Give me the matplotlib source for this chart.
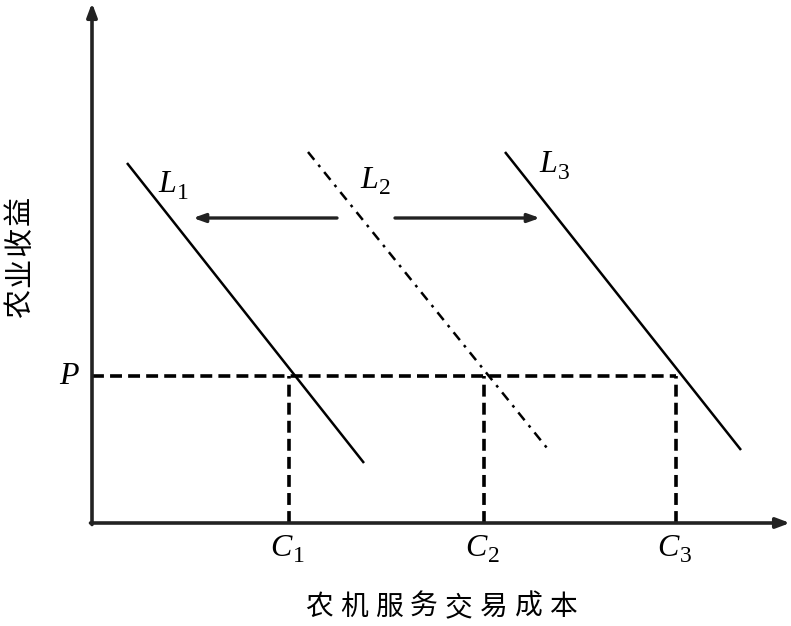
import matplotlib.pyplot as plt

# Data (pixel-like units, origin at the axes corner)
line_names = ["L", "L", "L"]
line_subs = ["1", "2", "3"]
line_x = [[35, 272], [216, 455], [413, 649]]
line_y = [[360, 60], [371, 75], [371, 73]]
line_styles = ["-", (0, (4, 2.6, 1.1, 2.6)), "-"]
label_xy = [(80, 338), (282, 343), (461, 358)]

p_level = 147
c_names = ["C", "C", "C"]
c_subs = ["1", "2", "3"]
c_values = [197, 392, 584]

arrow_y = 305
arrow_left = (245, 101)
arrow_right = (303, 448)

x_title = "农机服务交易成本"
y_title = "农业收益"

serif = 'Liberation Serif'
cjk = ['Noto Sans CJK SC', 'DejaVu Sans']

fig = plt.figure(figsize=(7.91, 6.26), dpi=100)
ax = fig.add_axes([0, 0, 1, 1])
ax.set_xlim(-92, 699)
ax.set_ylim(-103, 523)
ax.axis('off')


def sub_label(x, y, main, sub):
    # italic letter with an upright, fairly large subscript
    ax.text(x, y, main, fontsize=23, family=serif, style='italic',
            ha="right", va="center")
    ax.annotate(sub, xy=(x, y), xytext=(0.5, -6), textcoords="offset points",
                fontsize=17, family=serif, ha="left", va="center")


# axes with arrows
ax.annotate("", xy=(698, 0), xytext=(-1.5, 0),
            arrowprops=dict(arrowstyle="-|>,head_length=0.8,head_width=0.3",
                            color="#222222", lw=2.6, shrinkA=0, shrinkB=0))
ax.annotate("", xy=(0, 520), xytext=(0, -1.5),
            arrowprops=dict(arrowstyle="-|>,head_length=0.8,head_width=0.3",
                            color="#222222", lw=2.6, shrinkA=0, shrinkB=0))

# sloping lines
for xs, ys, ls in zip(line_x, line_y, line_styles):
    ax.plot(xs, ys, color="black", lw=1.8, linestyle=ls, solid_capstyle='butt')

for main, sub, (lx, ly) in zip(line_names, line_subs, label_xy):
    sub_label(lx + 4, ly, main, sub)

# dashed guides
ax.plot([0, c_values[-1]], [p_level, p_level], color="black", lw=2.6,
        linestyle=(0, (3.3, 1.7)))
for cx, main, sub in zip(c_values, c_names, c_subs):
    ax.plot([cx, cx], [0, p_level], color="black", lw=2.6,
            linestyle=(0, (3.3, 1.7)))
    sub_label(cx + 3, -25, main, sub)

ax.text(-23, p_level, "P", fontsize=23, family=serif, style='italic',
        ha="center", va="center")

# shift arrows
for x0, x1 in [arrow_left, arrow_right]:
    ax.annotate("", xy=(x1, arrow_y), xytext=(x0, arrow_y),
                arrowprops=dict(arrowstyle="-|>,head_length=0.7,head_width=0.25",
                                color="#222222", lw=2.4, shrinkA=0, shrinkB=0))

# axis titles, spaced out like the original
for i, ch in enumerate(x_title):
    ax.text(227 + i * 35, -84, ch, fontsize=20, family=cjk,
            ha="center", va="center")
for i, ch in enumerate(y_title):
    ax.text(-72, 220 + i * 31, ch, fontsize=21, family=cjk, rotation=90,
            ha="center", va="center")

fig.savefig("out.png", dpi=100, facecolor="white")
